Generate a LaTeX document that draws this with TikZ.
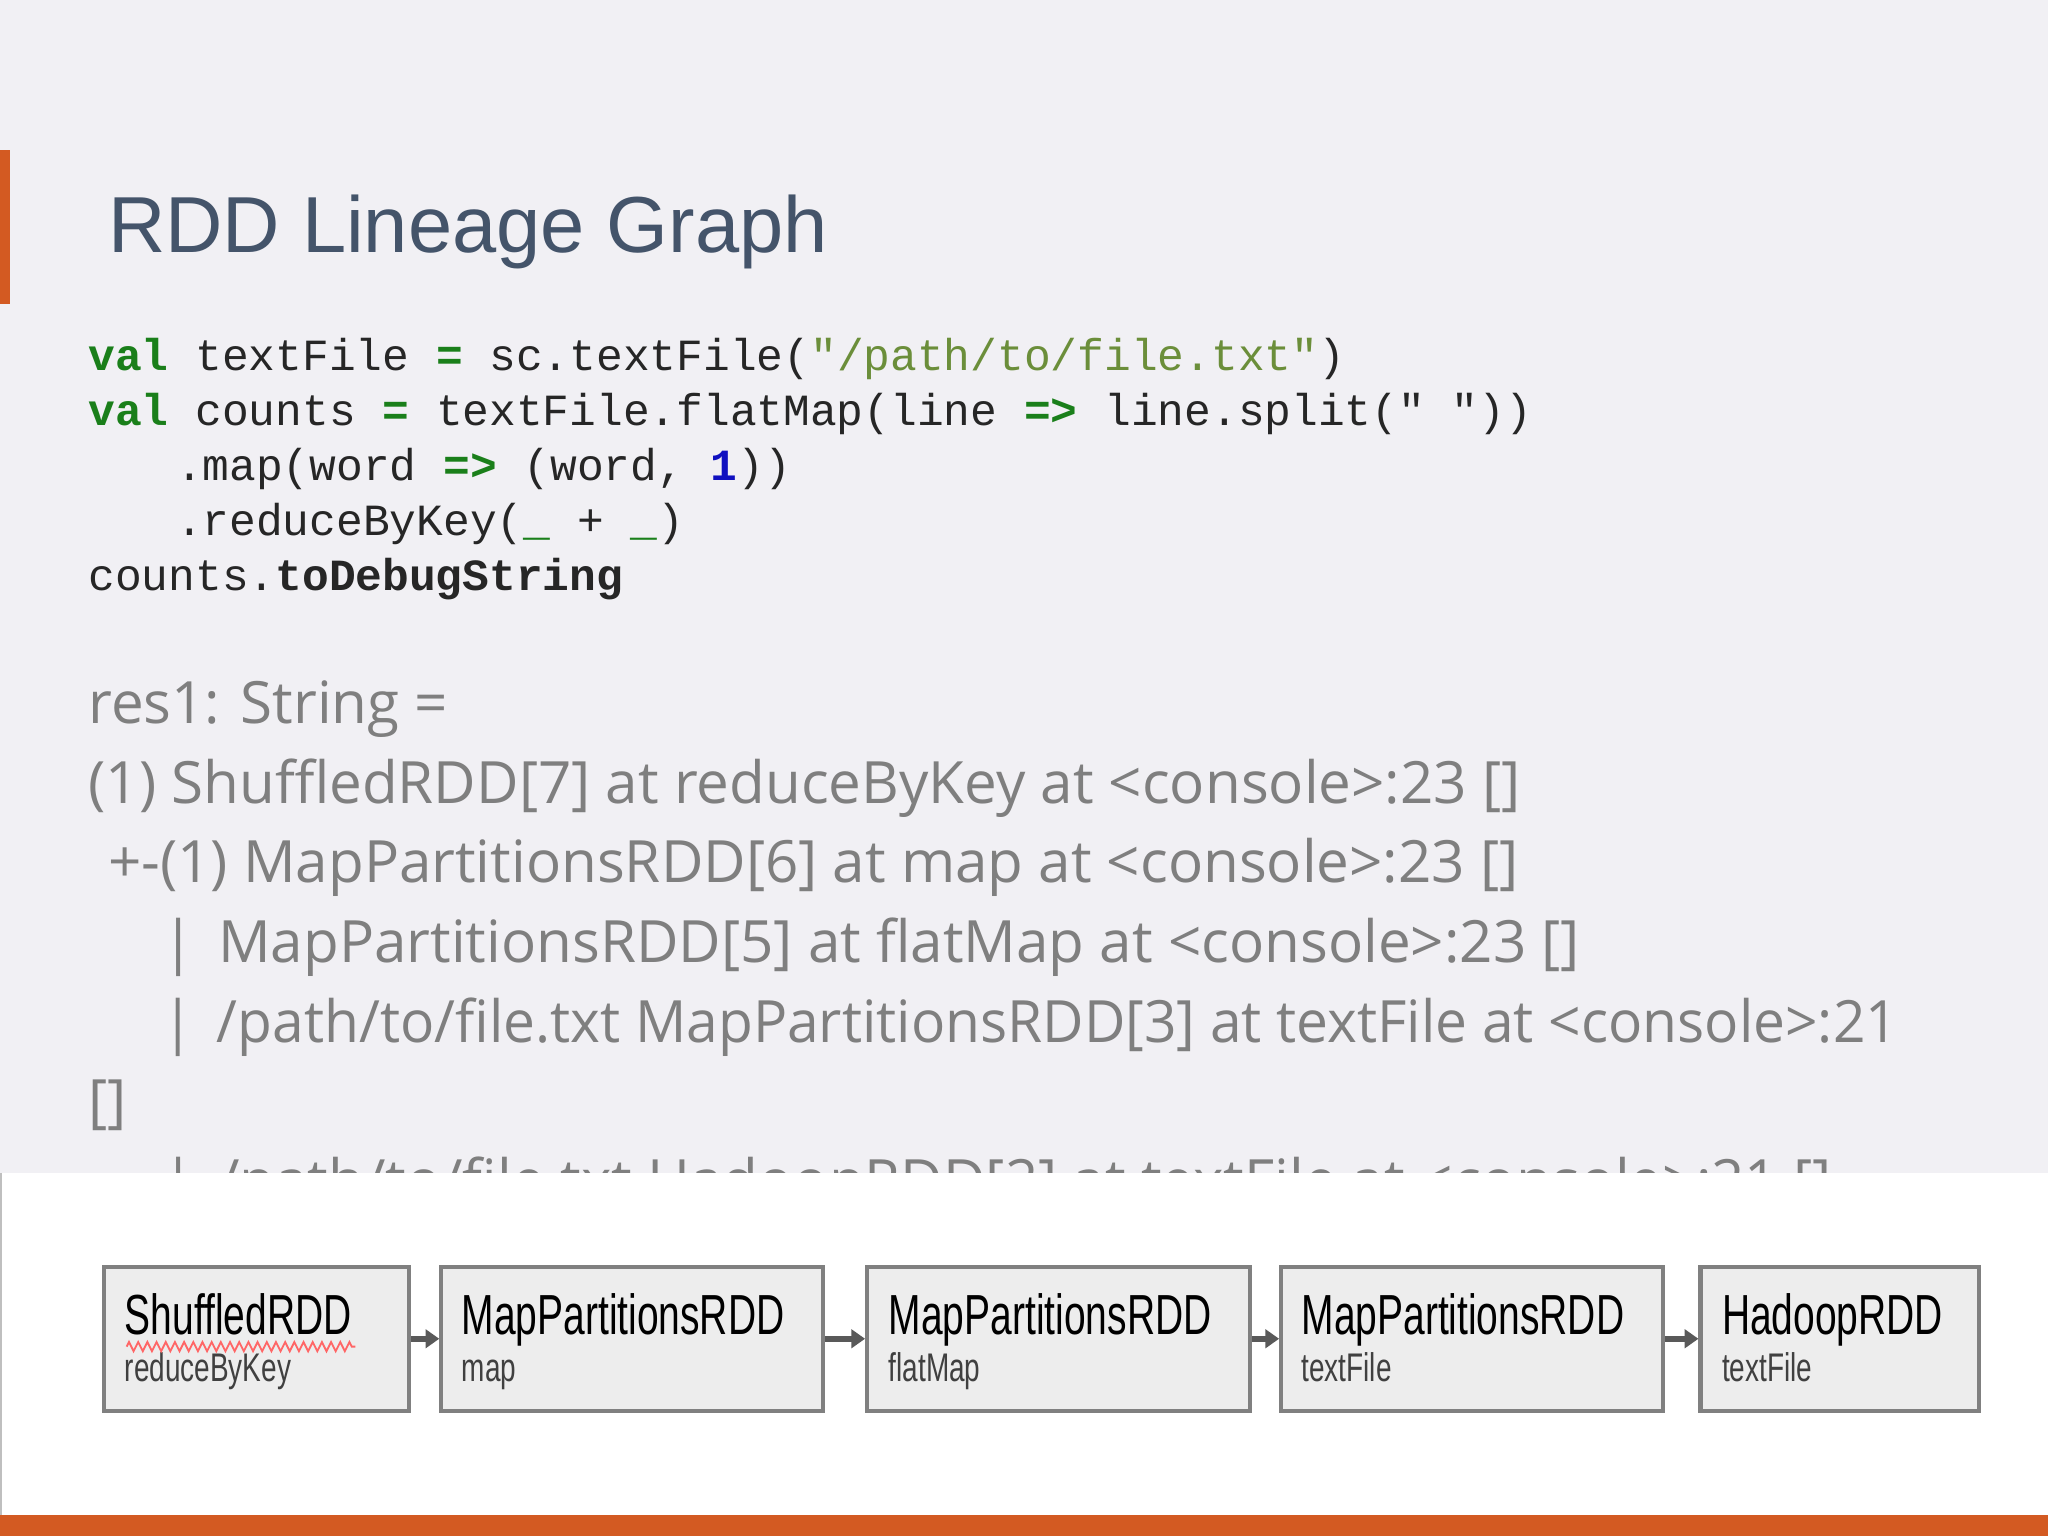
\documentclass[tikz,border=0pt]{standalone}
\usepackage{fontspec}
\setmainfont{Open Sans}
\newfontfamily\codef{Liberation Mono}
\newfontfamily\boxf{Liberation Sans}
\usetikzlibrary{arrows.meta,decorations.pathmorphing}
\definecolor{bg}{HTML}{F1F0F4}
\definecolor{org}{HTML}{D35A22}
\definecolor{ttl}{HTML}{44546A}
\definecolor{kw}{HTML}{1A7F1A}
\definecolor{strc}{HTML}{6B8E3A}
\definecolor{num}{HTML}{1010C0}
\definecolor{outg}{HTML}{7F7F7F}
\tikzset{
 code/.style={anchor=base west,inner sep=0,font=\codef\fontsize{9.7}{11}\selectfont,text=black!85},
 outl/.style={anchor=base west,inner sep=0,font=\fontsize{12.7}{14}\selectfont,text=outg},
 rdd/.style={draw=black!50,line width=0.9pt,fill=black!7,minimum height=1.1cm,inner sep=0},
 big/.style={anchor=base west,inner sep=0,font=\boxf\fontsize{12.3}{14}\selectfont,xscale=0.69},
 small/.style={anchor=base west,inner sep=0,font=\boxf\fontsize{8.7}{10}\selectfont,text=black!75,xscale=0.7},
 arr/.style={-{Triangle[length=3pt,width=4pt]},draw=black!65,line width=1.3pt}
}
\newcommand{\kwd}[1]{\textcolor{kw}{\textbf{#1}}}
\begin{document}
\begin{tikzpicture}[x=0.01cm,y=-0.01cm]
\fill[bg] (0,0) rectangle (1568,1176);
\useasboundingbox (0,0) rectangle (1568,1176);
\fill[org] (0,115) rectangle (8,233);
\node[anchor=base west,inner sep=0,text=ttl,font=\boxf\fontsize{17.3}{21}\selectfont] (title) at (82,193) {RDD Lineage Graph};
\node[code] (c1) at (67,284) {\kwd{val} textFile \kwd{=} sc.textFile(\textcolor{strc}{"/path/to/file.txt"})};
\node[code] (c2) at (67,326) {\kwd{val} counts \kwd{=} textFile.flatMap(line \kwd{=>} line.split(" "))};
\node[code] (c3) at (67,368) {\phantom{val\,}.map(word \kwd{=>} (word, \textcolor{num}{\textbf{1}}))};
\node[code] (c4) at (67,410) {\phantom{val\,}.reduceByKey(\kwd{\_} + \kwd{\_})};
\node[code] (c5) at (67,452) {counts.\textbf{toDebugString}};
\node[outl] (o1) at (67,554) {res1: String =};
\node[outl] (o2) at (67,615) {(1) ShuffledRDD[7] at reduceByKey at <console>:23 []};
\node[outl] (o3) at (82,676) {+-(1) MapPartitionsRDD[6] at map at <console>:23 []};
\node[outl] (o4) at (124,737) {|\hspace{0.4em}MapPartitionsRDD[5] at flatMap at <console>:23 []};
\node[outl,xscale=0.975] (o5) at (124,798) {|\hspace{0.4em}/path/to/file.txt MapPartitionsRDD[3] at textFile at <console>:21};
\node[outl] (o6) at (67,859) {[]};
\node[outl] (o7) at (124,920) {|\hspace{0.4em}/path/to/file.txt HadoopRDD[2] at textFile at <console>:21 []};
\fill[white] (0,898) rectangle (1568,1160);
\draw[black!25] (0.5,898) -- (0.5,1160);
\fill[org] (0,1160) rectangle (1568,1176);
\node[rdd,minimum width=2.33cm] (b1) at (196.5,1025) {};
\node[rdd,minimum width=2.92cm] (b2) at (484,1025) {};
\node[rdd,minimum width=2.93cm] (b3) at (810.5,1025) {};
\node[rdd,minimum width=2.92cm] (b4) at (1127,1025) {};
\node[rdd,minimum width=2.13cm] (b5) at (1408.5,1025) {};
\node[big] (t1) at (95,1022) {ShuffledRDD};
\node[small] (s1) at (95,1058) {reduceByKey};
\draw[red!60,decorate,decoration={zigzag,amplitude=1pt,segment length=2pt}] (97,1031) -- (272,1031);
\node[big] (t2) at (353,1022) {MapPartitionsRDD};
\node[small] (s2) at (353,1058) {map};
\node[big] (t3) at (680,1022) {MapPartitionsRDD};
\node[small] (s3) at (680,1058) {flatMap};
\node[big] (t4) at (996,1022) {MapPartitionsRDD};
\node[small] (s4) at (996,1058) {textFile};
\node[big] (t5) at (1318,1022) {HadoopRDD};
\node[small] (s5) at (1318,1058) {textFile};
\draw[arr] (b1) -- (b2);
\draw[arr] (b2) -- (b3);
\draw[arr] (b3) -- (b4);
\draw[arr] (b4) -- (b5);
\end{tikzpicture}
\end{document}
